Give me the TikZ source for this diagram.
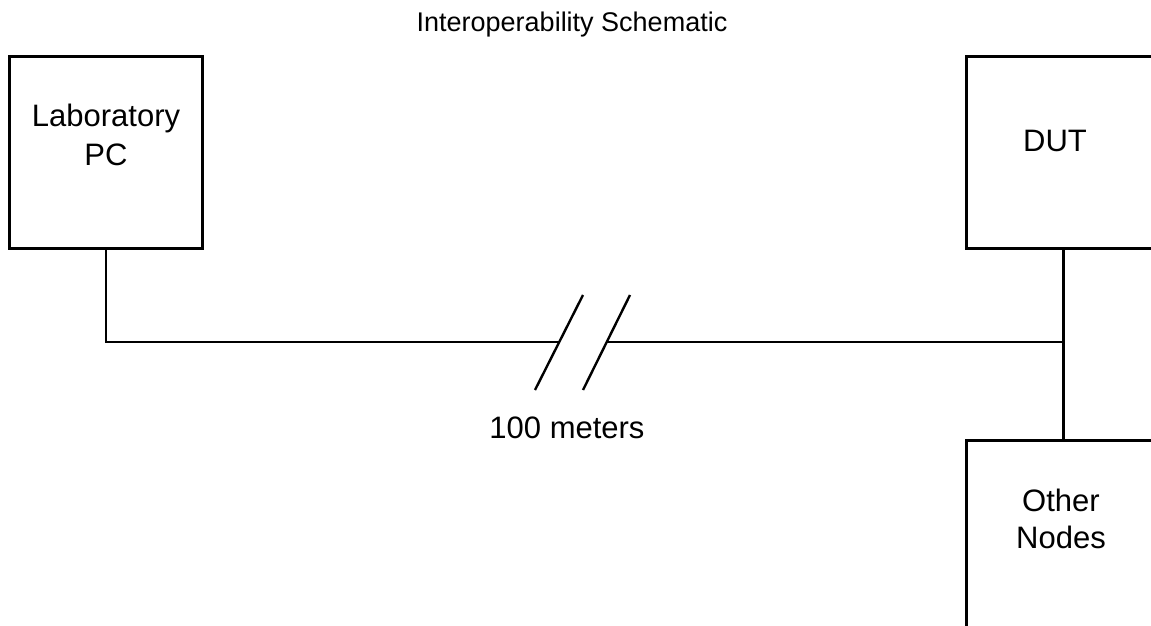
\documentclass[tikz,border=0pt]{standalone}
\usepackage{fontspec}
\setmainfont{Liberation Sans}
\begin{document}
\begin{tikzpicture}[x=1pt,y=-1pt,
  box/.style={draw=black,line width=2.8pt,rectangle,inner sep=0pt,anchor=north west},
  wire/.style={draw=black,line width=2.8pt},
  lbl/.style={font=\fontsize{31}{38}\selectfont,align=center,inner sep=0pt,anchor=base},
  ttl/.style={font=\fontsize{27}{32}\selectfont,inner sep=0pt,anchor=base}]
\clip (0,0) rectangle (1151,626);
\fill[white] (0,0) rectangle (1151,626);
% boxes
\node[box,minimum width=193pt,minimum height=192pt] (lab) at (8,55) {};
\node[box,minimum width=194pt,minimum height=192pt] (dut) at (965,55) {};
\node[box,minimum width=194pt,minimum height=200pt] (oth) at (965,439) {};
% texts
\node[ttl] (title) at (572,32) {Interoperability Schematic};
\node[lbl,font=\fontsize{31}{39}\selectfont] (labtxt) at (106,165) {Laboratory\\PC};
\node[lbl] (duttxt) at (1055,151) {DUT};
\node[lbl,font=\fontsize{31}{37}\selectfont] (othtxt) at (1061,548) {Other\\Nodes};
\node[lbl] (dist) at (567,438) {100 meters};
% connectors
\coordinate (brkL) at (559,342);
\coordinate (brkR) at (607,342);
\coordinate (junc) at (dut.south |- brkL);
\draw[wire] (lab.south) |- (brkL);
\draw[wire] (brkR) -- (junc);
\draw[wire] (dut.south) -- (oth.north);
% break marks
\coordinate (s1a) at (535,390);
\coordinate (s1b) at (583,295);
\coordinate (s2a) at (583,390);
\coordinate (s2b) at (630,295);
\draw[wire,line width=2.4pt] (s1a) -- (s1b);
\draw[wire,line width=2.4pt] (s2a) -- (s2b);
\end{tikzpicture}
\end{document}
